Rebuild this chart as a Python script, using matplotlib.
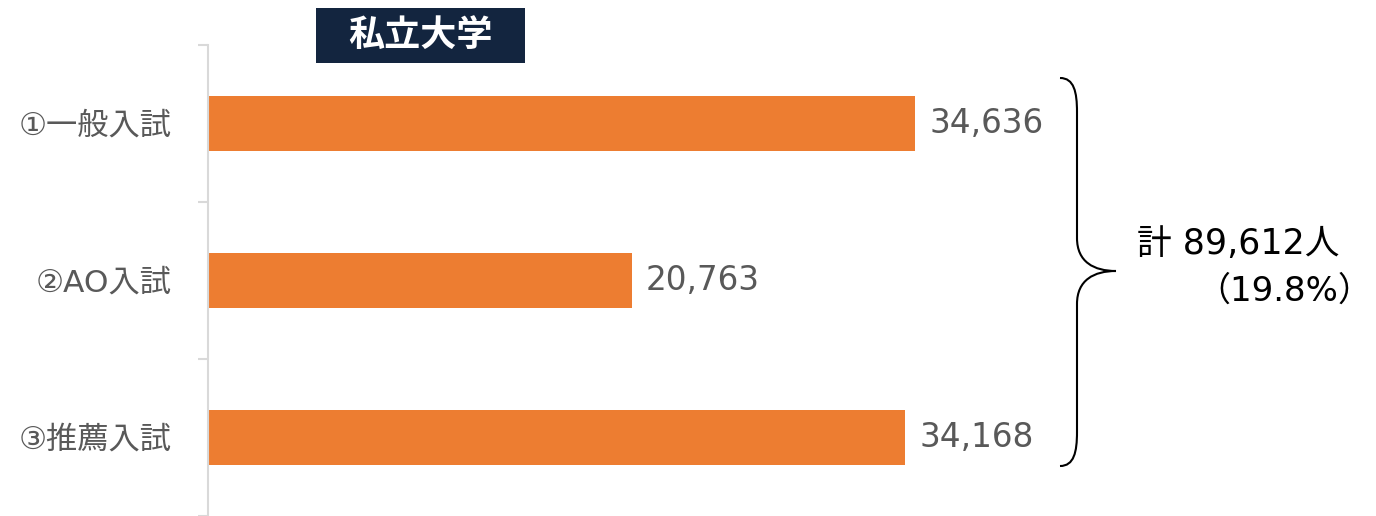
import matplotlib
matplotlib.use('Agg')
import matplotlib.pyplot as plt
from matplotlib.path import Path
from matplotlib.patches import PathPatch, Rectangle
from matplotlib.ticker import FixedLocator

plt.rcParams['font.family'] = ['DejaVu Sans', 'Noto Sans CJK JP']

# 私立大学 入試区分別
categories = ['①一般入試', '②AO入試', '③推薦入試']
values = [34636, 20763, 34168]
total_label = '計 89,612人'
share_label = '（19.8%）'
title = '私立大学'

W, H = 1376, 516
fig = plt.figure(figsize=(W / 100, H / 100), dpi=100)
ax = fig.add_axes([208 / W, 0, 1 - 208 / W, 1 - 45 / H])

pos = list(range(len(categories)))
ax.barh(pos, values, height=0.35, color='#ED7D31')
ax.set_xlim(0, 57220)
ax.set_ylim(len(categories) - 0.5, -0.5)

for p, v in zip(pos, values):
    ax.text(v + 700, p, f'{v:,}', va='center', ha='left', fontsize=23.5, color='#595959')

ax.set_yticks(pos)
ax.set_yticklabels(categories, fontsize=22.5, color='#595959')
ax.yaxis.set_minor_locator(FixedLocator([p - 0.5 for p in pos] + [pos[-1] + 0.5]))
ax.tick_params(axis='y', which='major', length=0, pad=26)
ax.tick_params(axis='y', which='minor', length=7.5, width=1.5, color='#d9d9d9')
ax.set_xticks([])
for s in ['top', 'right', 'bottom']:
    ax.spines[s].set_visible(False)
ax.spines['left'].set_color('#d9d9d9')
ax.spines['left'].set_linewidth(1.5)

# 右側の波括弧（ピクセル座標で作成）
def fp(x, y):
    return (x / W, 1 - y / H)

verts = [fp(1060, 78), fp(1074, 78), fp(1077, 92), fp(1077, 112),
         fp(1077, 238),
         fp(1077, 262), fp(1094, 271), fp(1116, 271),
         fp(1094, 271), fp(1077, 280), fp(1077, 304),
         fp(1077, 432),
         fp(1077, 452), fp(1074, 466), fp(1060, 466)]
codes = [Path.MOVETO, Path.CURVE4, Path.CURVE4, Path.CURVE4,
         Path.LINETO,
         Path.CURVE4, Path.CURVE4, Path.CURVE4,
         Path.CURVE4, Path.CURVE4, Path.CURVE4,
         Path.LINETO,
         Path.CURVE4, Path.CURVE4, Path.CURVE4]
fig.patches.append(PathPatch(Path(verts, codes), transform=fig.transFigure,
                             facecolor='none', edgecolor='black', lw=1.5))

fig.text(1137 / W, 1 - 244 / H, total_label, ha='left', va='center', fontsize=25, color='black')
fig.text(1372 / W, 1 - 291 / H, share_label, ha='right', va='center', fontsize=24.5, color='black')

# タイトルの帯
fig.patches.append(Rectangle((316 / W, 1 - 63 / H), 209 / W, 55 / H,
                             transform=fig.transFigure, facecolor='#13253f', edgecolor='none'))
fig.text(420 / W, 1 - 36 / H, title, ha='center', va='center', fontsize=26,
         fontweight='bold', color='white', family=['Noto Sans CJK JP'])

fig.savefig('out.png', dpi=100)
